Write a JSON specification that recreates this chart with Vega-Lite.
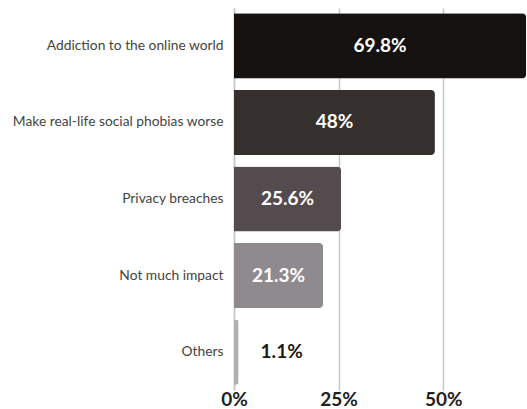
{
  "$schema": "https://vega.github.io/schema/vega-lite/v6.json",
  "autosize": {"type": "none"},
  "width": 293,
  "height": 382,
  "padding": {"left": 234, "top": 8, "right": 0, "bottom": 19},
  "background": "white",
  "config": {"view": {"stroke": null}, "font": "Lato"},
  "data": {
    "values": [
      {"category": "Addiction to the online world", "value": 69.8, "label": "69.8%", "color": "#15120f", "inside": true},
      {"category": "Make real-life social phobias worse", "value": 48, "label": "48%", "color": "#35302d", "inside": true},
      {"category": "Privacy breaches", "value": 25.6, "label": "25.6%", "color": "#544b4e", "inside": true},
      {"category": "Not much impact", "value": 21.3, "label": "21.3%", "color": "#8f8a8e", "inside": true},
      {"category": "Others", "value": 1.1, "label": "1.1%", "color": "#b0aeb0", "inside": false}
    ]
  },
  "encoding": {
    "y": {
      "field": "category",
      "type": "nominal",
      "sort": null,
      "scale": {"paddingInner": 0.15, "paddingOuter": 0.07},
      "axis": {
        "title": null,
        "ticks": false,
        "domain": true,
        "domainColor": "#c8c8c8",
        "domainWidth": 1.5,
        "labelFont": "Lato",
        "labelFontSize": 13.8,
        "labelColor": "#444444",
        "labelPadding": 11,
        "labelLimit": 300
      }
    }
  },
  "layer": [
    {
      "mark": {"type": "bar", "cornerRadiusEnd": 4},
      "encoding": {
        "x": {
          "field": "value",
          "type": "quantitative",
          "scale": {"domain": [0, 70], "nice": false},
          "axis": {
            "title": null,
            "values": [0, 25, 50],
            "format": ".0f",
            "labelExpr": "datum.label + '%'",
            "labelFlush": false,
            "domain": false,
            "ticks": false,
            "grid": true,
            "gridColor": "#c8c8c8",
            "gridWidth": 1.5,
            "labelFont": "Lato",
            "labelFontSize": 19,
            "labelFontWeight": "bold",
            "labelColor": "#222222",
            "labelPadding": 0,
            "labelBaseline": "top"
          }
        },
        "color": {"field": "color", "type": "nominal", "scale": null, "legend": null}
      }
    },
    {
      "transform": [{"filter": "datum.inside"}],
      "mark": {"type": "text", "font": "Lato", "fontSize": 19, "fontWeight": "bold", "color": "white", "baseline": "middle", "align": "center"},
      "encoding": {
        "x": {"field": "value", "type": "quantitative", "stack": "zero", "bandPosition": 0.5},
        "text": {"field": "label"}
      }
    },
    {
      "transform": [{"filter": "!datum.inside"}],
      "mark": {"type": "text", "font": "Lato", "fontSize": 19, "fontWeight": "bold", "color": "#1a1a1a", "baseline": "middle", "align": "left", "dx": 22},
      "encoding": {
        "x": {"field": "value", "type": "quantitative"},
        "text": {"field": "label"}
      }
    }
  ]
}
